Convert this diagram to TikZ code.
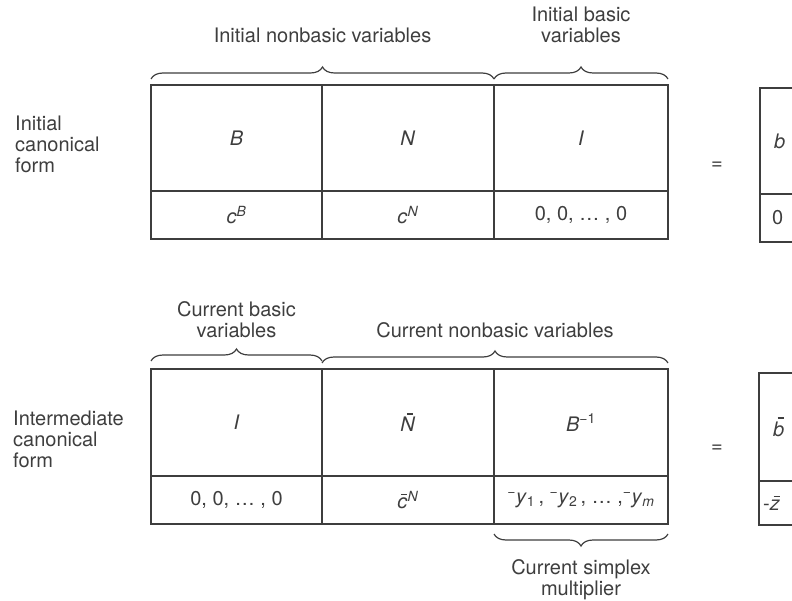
\documentclass[tikz,border=0pt]{standalone}
\usepackage{fontspec}
\setmainfont{TeX Gyre Heros}
\usetikzlibrary{positioning,decorations.pathreplacing}
\definecolor{ink}{RGB}{62,62,62}
\newcommand\lbl{\fontsize{20}{21}\selectfont}
\newcommand\ovbar[1]{\leavevmode\vbox{\offinterlineskip\halign{\hfil##\hfil\cr
  \hspace{0.18em}\rule{0.3em}{0.07em}\cr\noalign{\kern0.14em}\textit{#1}\cr}}}
\tikzset{
  cell/.style={draw=ink, line width=1.5pt, inner sep=0pt, outer sep=0pt, text=ink},
  upper/.style={cell, minimum height=106pt},
  lower/.style={cell, minimum height=48pt},
  frame/.style={draw=ink, line width=2.6pt},
  brace/.style={draw=ink, line width=1.2pt, decorate, decoration={brace, amplitude=12pt}},
  side/.style={text=ink, align=left, inner sep=0pt, anchor=north west},
  note/.style={text=ink, align=center, inner sep=0pt},
}
\begin{document}
\begin{tikzpicture}[x=1pt, y=-1pt, font=\lbl]
\useasboundingbox (0,0) rectangle (792,601);
\clip (0,0) rectangle (792,601);

% initial canonical form
\node[upper, minimum width=171pt, anchor=north west] (iB) at (151,85) {\textit{B}};
\node[upper, minimum width=172pt, right=0pt of iB] (iN) {\textit{N}};
\node[upper, minimum width=174pt, right=0pt of iN] (iI) {\textit{I}};
\node[lower, minimum width=171pt, below=0pt of iB] (icB) {\textit{c}\textsuperscript{\textit{B}}};
\node[lower, minimum width=172pt, below=0pt of iN] (icN) {\textit{c}\textsuperscript{\textit{N}}};
\node[lower, minimum width=174pt, below=0pt of iI] (icI) {0, 0, \textellipsis\ , 0};
\draw[frame] (iB.north west) rectangle (icI.south east);

\node[upper, minimum width=80pt, anchor=north west] (ib) at (760,88) {};
\node[lower, minimum width=80pt, below=0pt of ib] (iz) {};
\draw[frame] (ib.north west) rectangle (iz.south east);
\node[note, right=14pt of ib.west] (ibt) {\textit{b}};
\node[note, right=12pt of iz.west] (izt) {0};
\node[note] (ieq) at (717,166) {=};

\node[side] (ilbl) at (15,116) {Initial\\canonical\\form};

\draw[brace] ([yshift=6pt]iB.north west) -- ([yshift=6pt]iN.north east)
  node[note, midway, above=36pt] (itn) {Initial nonbasic variables};
\draw[brace] ([yshift=6pt]iI.north west) -- ([yshift=6pt]iI.north east)
  node[note, midway, above=36pt] (itb) {Initial basic\\variables};

% intermediate canonical form
\node[upper, minimum width=171pt, minimum height=107pt, anchor=north west] (mI) at (151,369) {\textit{I}};
\node[upper, minimum width=172pt, minimum height=107pt, right=0pt of mI] (mN) {\ovbar{N}};
\node[upper, minimum width=174pt, minimum height=107pt, right=0pt of mN] (mB) {\textit{B}\textsuperscript{−1}};
\node[lower, minimum width=171pt, below=0pt of mI] (mcB) {0, 0, \textellipsis\ , 0};
\node[lower, minimum width=172pt, below=0pt of mN] (mcN) {\ovbar{c}\textsuperscript{\textit{N}}};
\node[lower, minimum width=174pt, below=0pt of mB] (my) {\textsuperscript{−}\textit{y}\textsubscript{1}\,, \textsuperscript{−}\textit{y}\textsubscript{2}\,, \textellipsis\ ,\textsuperscript{−}\textit{y}\textsubscript{\textit{m}}};
\draw[frame] (mI.north west) rectangle (my.south east);

\node[upper, minimum width=80pt, minimum height=108pt, anchor=north west] (mb) at (759,373) {};
\node[lower, minimum width=80pt, minimum height=44pt, below=0pt of mb] (mz) {};
\draw[frame] (mb.north west) rectangle (mz.south east);
\node[note, right=14pt of mb.west] (mbt) {\ovbar{b}};
\node[note, right=4pt of mz.west] (mzt) {-\ovbar{z}};
\node[note] (meq) at (717,449) {=};

\node[side] (mlbl) at (13,411) {Intermediate\\canonical\\form};

\draw[brace] ([yshift=8pt]mI.north west) -- ([yshift=8pt]mI.north east)
  node[note, midway, above=23pt] (mtb) {Current basic\\variables};
\draw[brace] ([yshift=6pt]mN.north west) -- ([yshift=6pt]mB.north east)
  node[note, midway, above=25pt] (mtn) {Current nonbasic variables};
\draw[brace] ([yshift=-10pt]my.south east) -- ([yshift=-10pt]my.south west)
  node[note, midway, below=25pt] (mts) {Current simplex\\multiplier};
\end{tikzpicture}
\end{document}
